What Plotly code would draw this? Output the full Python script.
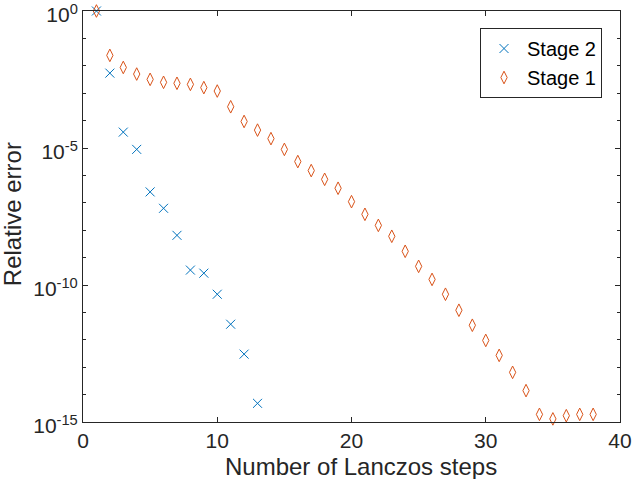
import plotly.graph_objects as go

steps_stage2 = list(range(1, 14))
err_stage2 = [1.0, 5.4e-3, 3.8e-5, 8.9e-6, 2.5e-7, 6.3e-8, 6.5e-9, 3.5e-10,
              2.7e-10, 4.6e-11, 3.7e-12, 3.0e-13, 4.8e-15]

steps_stage1 = list(range(1, 39))
err_stage1 = [1.0, 2.4e-2, 8.7e-3, 5.0e-3, 3.2e-3, 2.5e-3, 2.3e-3, 2.1e-3,
              1.6e-3, 1.2e-3, 3.2e-4, 9.3e-5, 4.5e-5, 2.2e-5, 8.9e-6, 3.2e-6,
              1.5e-6, 7.2e-7, 3.4e-7, 1.1e-7, 3.8e-8, 1.5e-8, 6.0e-9, 1.7e-9,
              4.8e-10, 1.6e-10, 4.6e-11, 1.2e-11, 3.4e-12, 9.5e-13, 2.7e-13,
              6.5e-14, 1.4e-14, 1.9e-15, 1.3e-15, 1.7e-15, 1.9e-15, 1.9e-15]

x_ticks = [0, 10, 20, 30, 40]
y_major = [1e0, 1e-5, 1e-10, 1e-15]
y_major_text = ["10<sup>0</sup>", "10<sup>-5</sup>", "10<sup>-10</sup>", "10<sup>-15</sup>"]
y_minor = [10.0 ** (-k) for k in range(0, 16)]

BLUE = "#0072BD"
ORANGE = "#D95319"
AX = "#262626"
FONT = "Liberation Sans, Arial, sans-serif"

fig = go.Figure()
fig.add_trace(go.Scatter(
    x=steps_stage2, y=err_stage2, mode="markers", name="Stage 2",
    marker=dict(symbol="x-thin-open", size=9, color=BLUE,
                line=dict(color=BLUE, width=1)),
    cliponaxis=False))
fig.add_trace(go.Scatter(
    x=steps_stage1, y=err_stage1, mode="markers", name="Stage 1",
    marker=dict(symbol="diamond-tall-open", size=9, color=ORANGE,
                line=dict(color=ORANGE, width=1)),
    cliponaxis=False))

fig.update_layout(
    width=632, height=479, autosize=False,
    margin=dict(l=83, r=12, t=11, b=57, autoexpand=False),
    paper_bgcolor="white", plot_bgcolor="white",
    font=dict(family=FONT, size=21, color=AX),
    showlegend=True,
    legend=dict(x=0.9665, y=0.9586, xanchor="right", yanchor="top",
                bgcolor="white", bordercolor=AX, borderwidth=1,
                font=dict(size=20, color="black"),
                itemwidth=36, tracegroupgap=0),
    xaxis=dict(range=[0, 40], tickvals=x_ticks, ticks="inside", ticklen=5,
               tickcolor=AX, showline=True, linecolor=AX, linewidth=1,
               mirror="ticks", showgrid=False, zeroline=False,
               automargin=False, ticklabeloverflow="allow",
               tickfont=dict(size=21, color=AX)),
    yaxis=dict(type="log", range=[-15, 0], tickvals=y_major,
               ticktext=y_major_text, ticks="inside", ticklen=5,
               tickcolor=AX, showline=True, linecolor=AX, linewidth=1,
               mirror="ticks", showgrid=False, zeroline=False,
               automargin=False, ticklabeloverflow="allow",
               ticklabelshift=4,
               tickfont=dict(size=21, color=AX),
               minor=dict(tickvals=y_minor, ticks="inside", ticklen=3,
                          tickcolor=AX, showgrid=False)),
    annotations=[
        dict(text="Number of Lanczos steps", xref="paper", yref="paper",
             x=0.518, y=-0.109, xanchor="center", yanchor="middle",
             showarrow=False, font=dict(size=24, color=AX)),
        dict(text="Relative error", xref="paper", yref="paper",
             x=-0.132, y=0.506, xanchor="center", yanchor="middle",
             textangle=-90, showarrow=False, font=dict(size=24, color=AX)),
    ],
)

fig.write_html(
    "out.html",
    config={"displayModeBar": False},
    post_script="document.body.style.margin='0';document.body.style.padding='0';document.body.style.overflow='hidden';",
)
